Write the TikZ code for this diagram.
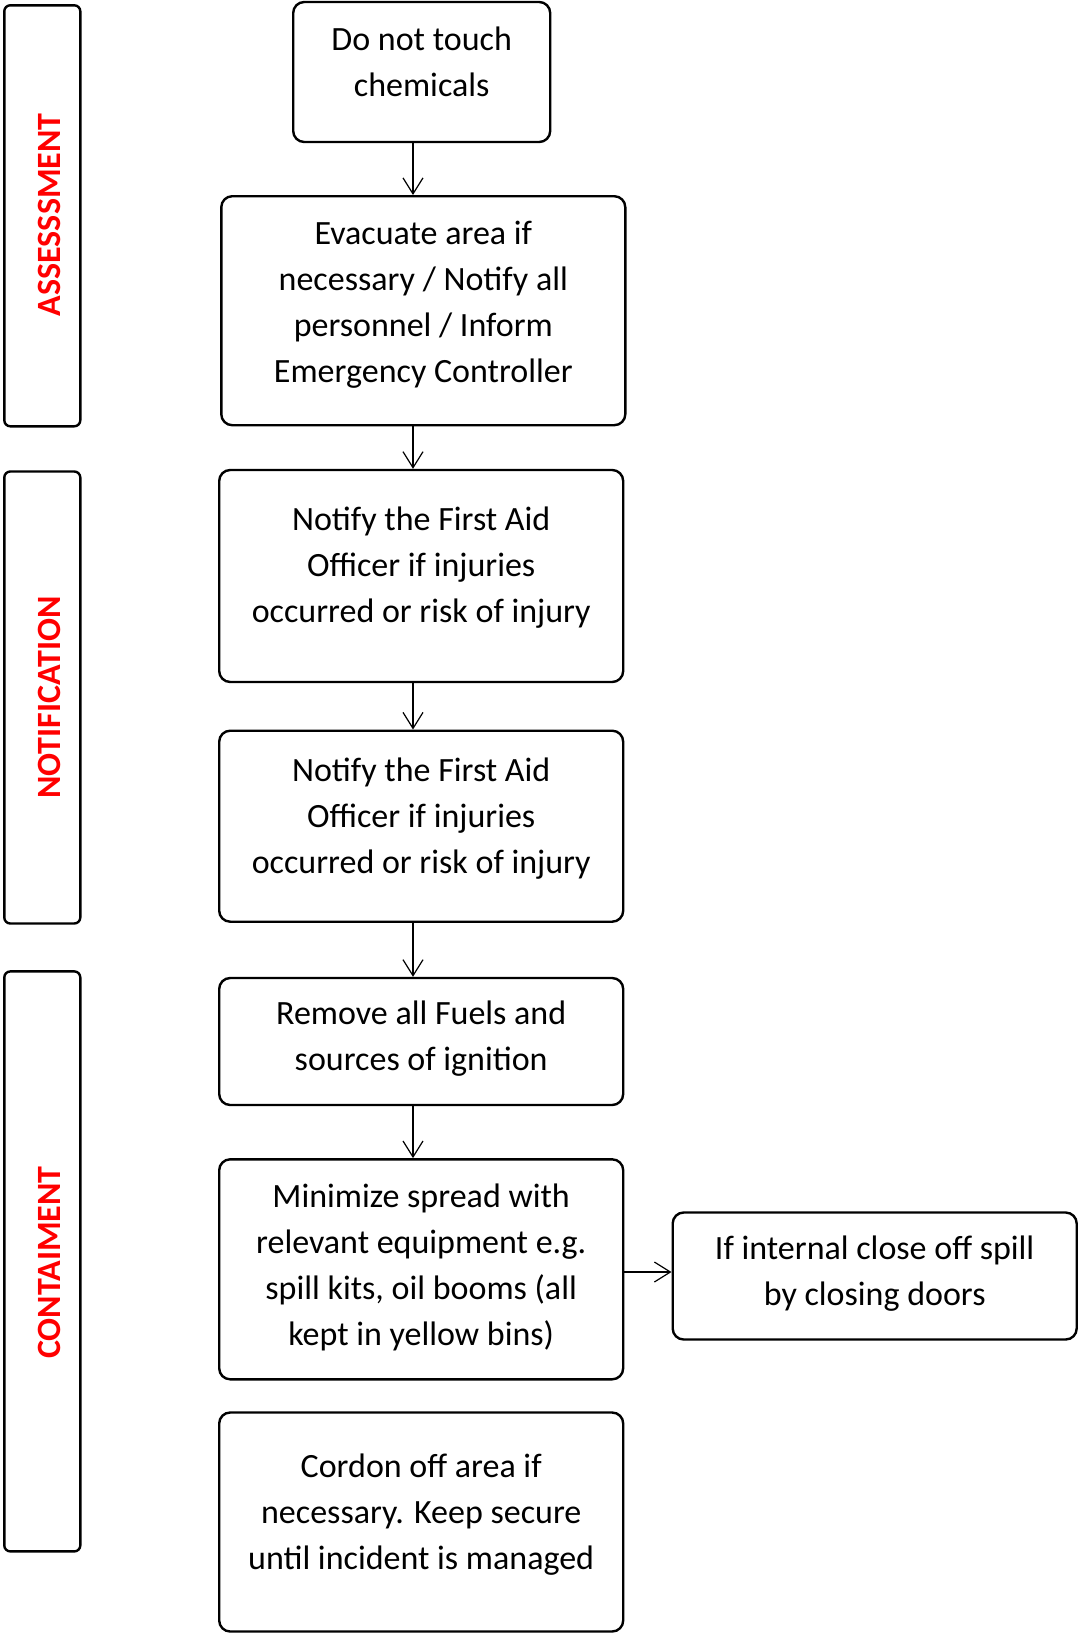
\documentclass[tikz,border=0pt]{standalone}
\usepackage{fontspec}
\setmainfont{Carlito}
\usetikzlibrary{arrows.meta}

\begin{document}
\begin{tikzpicture}[x=1pt, y=-1pt,
    action/.style={draw, line width=2.4pt, rounded corners=11pt, inner sep=0pt, align=center,
        font=\fontsize{34}{46}\selectfont},
    lift/.style={text depth=#1},
    stage/.style={draw, line width=2.4pt, rounded corners=6pt, inner sep=0pt, minimum width=76pt},
    phase/.style={rotate=90, text=red, inner sep=0pt, font=\fontsize{34}{40}\selectfont\bfseries},
    flow/.style={-{Straight Barb[length=16pt, width=20pt]}, line width=1.2pt}]
    \useasboundingbox (0,0) rectangle (1080,1634);

    % Phase panels on the left
    \node[stage, minimum height=421pt] (assess) at (42.3, 215.8) {};
    \node[stage, minimum height=452pt] (notify) at (42.3, 697.5) {};
    \node[stage, minimum height=580pt] (contain) at (42.3, 1261.4) {};
    \node[phase] (assesslbl) at (49.5, 214.8) {ASSESSSMENT};
    \node[phase] (notifylbl) at (49.5, 697.5) {NOTIFICATION};
    \node[phase] (containlbl) at (49.5, 1262.5) {CONTAIMENT};

    % Steps
    \node[action, minimum width=257pt, minimum height=140pt, lift=21pt] (touch) at (421.7, 72)
        {Do not touch\\chemicals};
    \node[action, minimum width=404pt, minimum height=229pt, lift=17pt] (evac) at (423.3, 310.7)
        {Evacuate area if\\necessary / Notify all\\personnel / Inform\\Emergency Controller};
    \node[action, minimum width=404pt, minimum height=212pt, lift=23pt] (aidA) at (421.2, 576)
        {Notify the First Aid\\Officer if injuries\\occurred or risk of injury};
    \node[action, minimum width=404pt, minimum height=191pt, lift=22pt] (aidB) at (421.2, 826.2)
        {Notify the First Aid\\Officer if injuries\\occurred or risk of injury};
    \node[action, minimum width=404pt, minimum height=127pt, lift=11pt] (fuels) at (421.2, 1041.5)
        {Remove all Fuels and\\sources of ignition};
    \node[action, minimum width=404pt, minimum height=220pt, lift=9pt] (spread) at (421.2, 1269.3)
        {Minimize spread with\\relevant equipment e.g.\\spill kits, oil booms (all\\kept in yellow bins)};
    \node[action, minimum width=404pt, minimum height=127pt, lift=11pt] (doors) at (874.7, 1276)
        {If internal close off spill\\by closing doors};
    \node[action, minimum width=404pt, minimum height=219pt, lift=20pt] (cordon) at (421.2, 1522)
        {Cordon off area if\\necessary. Keep secure\\until incident is managed};

    % Connectors
    \coordinate (spine) at (413, 0);
    \coordinate (tap) at (0, 1272);
    \draw[flow] (touch.south -| spine) -- (evac.north -| spine);
    \draw[flow] (evac.south -| spine) -- (aidA.north -| spine);
    \draw[flow] (aidA.south -| spine) -- (aidB.north -| spine);
    \draw[flow] (aidB.south -| spine) -- (fuels.north -| spine);
    \draw[flow] (fuels.south -| spine) -- (spread.north -| spine);
    \draw[flow] (spread.east |- tap) -- (doors.west |- tap);
\end{tikzpicture}
\end{document}
